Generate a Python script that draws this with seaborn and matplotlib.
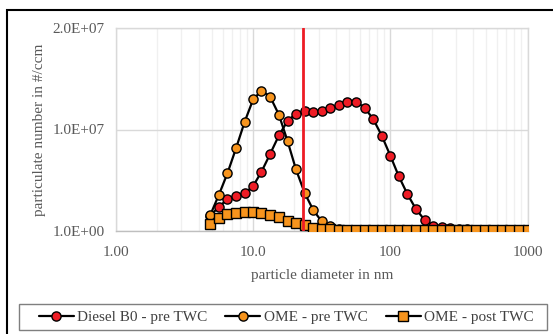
import matplotlib
matplotlib.use("Agg")
import matplotlib.pyplot as plt
import seaborn as sns
import pandas as pd
from matplotlib.lines import Line2D
from matplotlib.patches import Rectangle

# particle diameter bins (nm)
diameter = [4.87, 5.62, 6.49, 7.50, 8.66, 10.0, 11.5, 13.3, 15.4, 17.8,
            20.5, 23.7, 27.4, 31.6, 36.5, 42.2, 48.7, 56.2, 64.9, 75.0,
            86.6, 100, 115, 133, 154, 178, 205, 237, 274, 316,
            365, 422, 487, 562, 649, 750, 866, 1000]

diesel_pre = [1.5e6, 2.39e6, 3.12e6, 3.45e6, 3.71e6, 4.43e6, 5.84e6, 7.59e6, 9.41e6, 10.84e6,
              11.56e6, 11.82e6, 11.69e6, 11.82e6, 12.09e6, 12.38e6, 12.74e6, 12.74e6, 12.15e6, 11.03e6,
              9.39e6, 7.42e6, 5.42e6, 3.65e6, 2.14e6, 1.08e6, 0.52e6, 0.36e6, 0.27e6, 0.2e6,
              0.15e6, 0.12e6, 0.1e6, 0.08e6, 0.06e6, 0.05e6, 0.05e6, 0.05e6]

ome_pre = [1.58e6, 3.55e6, 5.68e6, 8.15e6, 10.74e6, 12.97e6, 13.82e6, 13.23e6, 11.46e6, 8.87e6,
           6.08e6, 3.77e6, 2.07e6, 0.94e6, 0.52e6, 0.2e6, 0.1e6, 0.06e6, 0.05e6, 0.05e6,
           0.05e6, 0.05e6, 0.05e6, 0.05e6, 0.05e6, 0.05e6, 0.05e6, 0.05e6, 0.05e6, 0.05e6,
           0.05e6, 0.05e6, 0.05e6, 0.05e6, 0.05e6, 0.05e6, 0.05e6, 0.05e6]

ome_post = [0.69e6, 1.28e6, 1.65e6, 1.82e6, 1.84e6, 1.84e6, 1.74e6, 1.58e6, 1.35e6, 1.01e6,
            0.82e6, 0.64e6, 0.34e6, 0.2e6, 0.15e6, 0.1e6, 0.1e6, 0.1e6, 0.1e6, 0.1e6,
            0.1e6, 0.1e6, 0.1e6, 0.1e6, 0.1e6, 0.1e6, 0.1e6, 0.1e6, 0.1e6, 0.1e6,
            0.1e6, 0.1e6, 0.1e6, 0.1e6, 0.1e6, 0.1e6, 0.1e6, 0.1e6]

series_names = ["Diesel B0 - pre TWC", "OME - pre TWC", "OME - post TWC"]
cutoff_nm = 23
x_ticks = [1, 10, 100, 1000]
x_tick_labels = ["1.00", "10.0", "100", "1000"]
y_ticks = [0, 1e7, 2e7]
y_tick_labels = ["1.0E+00", "1.0E+07", "2.0E+07"]

sns.set_theme(style="white")
plt.rcParams["font.family"] = ["Liberation Serif", "DejaVu Serif"]

RED = "#EE1C25"
ORANGE = "#F7941D"
TXT = "#595959"
MS = 6.6

fig = plt.figure(figsize=(5.53, 3.34), dpi=100)
ax = fig.add_axes([116 / 553, 1 - 231 / 334, (527.5 - 116) / 553, (231 - 28) / 334])

df = pd.DataFrame({"d": diameter, "diesel": diesel_pre, "ome": ome_pre, "post": ome_post})

common = dict(color="black", linewidth=1.6, markeredgecolor="black",
              markeredgewidth=1.0, markersize=MS, legend=False)
sns.lineplot(data=df, x="d", y="diesel", ax=ax, marker="o", markerfacecolor=RED, zorder=3, **common)
sns.lineplot(data=df, x="d", y="ome", ax=ax, marker="o", markerfacecolor=ORANGE, zorder=4, **common)
sns.lineplot(data=df, x="d", y="post", ax=ax, marker="s", markerfacecolor=ORANGE, zorder=5, **common)

ax.axvline(cutoff_nm, color=RED, linewidth=2, zorder=6)

ax.set_xscale("log")
ax.set_xlim(1, 1000)
ax.set_ylim(0, 2e7)
ax.set_xticks(x_ticks)
ax.set_xticklabels(x_tick_labels)
ax.set_yticks(y_ticks)
ax.set_yticklabels(y_tick_labels)
ax.xaxis.set_minor_locator(matplotlib.ticker.LogLocator(base=10, subs=range(2, 10)))
ax.xaxis.set_minor_formatter(matplotlib.ticker.NullFormatter())
ax.grid(True, which="major", color="#D9D9D9", linewidth=1.0)
ax.grid(True, which="minor", axis="x", color="#F0F0F0", linewidth=1.0)
ax.set_axisbelow(True)
ax.tick_params(axis="both", which="both", length=0, labelsize=11, colors=TXT)
ax.tick_params(axis="x", pad=11)
ax.tick_params(axis="y", pad=8)
for s in ["top", "right", "left"]:
    ax.spines[s].set_color("#D9D9D9")
    ax.spines[s].set_linewidth(1.0)
ax.spines["bottom"].set_color("#BFBFBF")
ax.spines["bottom"].set_linewidth(1.0)

ax.set_xlabel("particle diameter in nm", fontsize=11, color=TXT, labelpad=7)
ax.set_ylabel("particulate number in #/ccm", fontsize=11, color=TXT, labelpad=5)

handles = [
    Line2D([], [], color="black", linewidth=1.6, marker="o", markerfacecolor=RED,
           markeredgecolor="black", markersize=MS),
    Line2D([], [], color="black", linewidth=1.6, marker="o", markerfacecolor=ORANGE,
           markeredgecolor="black", markersize=MS),
    Line2D([], [], color="black", linewidth=1.6, marker="s", markerfacecolor=ORANGE,
           markeredgecolor="black", markersize=MS),
]
leg = fig.legend(handles, series_names, loc="center", ncol=3,
                 bbox_to_anchor=(286 / 553, 1 - 317 / 334), frameon=False,
                 fontsize=11, handlelength=2.3, handletextpad=0.2, columnspacing=1.2,
                 borderpad=0.3, labelcolor="#404040")

# legend frame
fig.patches.append(Rectangle((19 / 553, 1 - 330 / 334), (547 - 19) / 553, 26 / 334,
                             transform=fig.transFigure, fill=False,
                             edgecolor="#7F7F7F", linewidth=1.0))
# outer chart border
fig.patches.append(Rectangle((7 / 553, -0.05), 1.1, 1 - 10 / 334 + 0.05,
                             transform=fig.transFigure, fill=False,
                             edgecolor="black", linewidth=1.5))

fig.savefig("out.png", dpi=100)
